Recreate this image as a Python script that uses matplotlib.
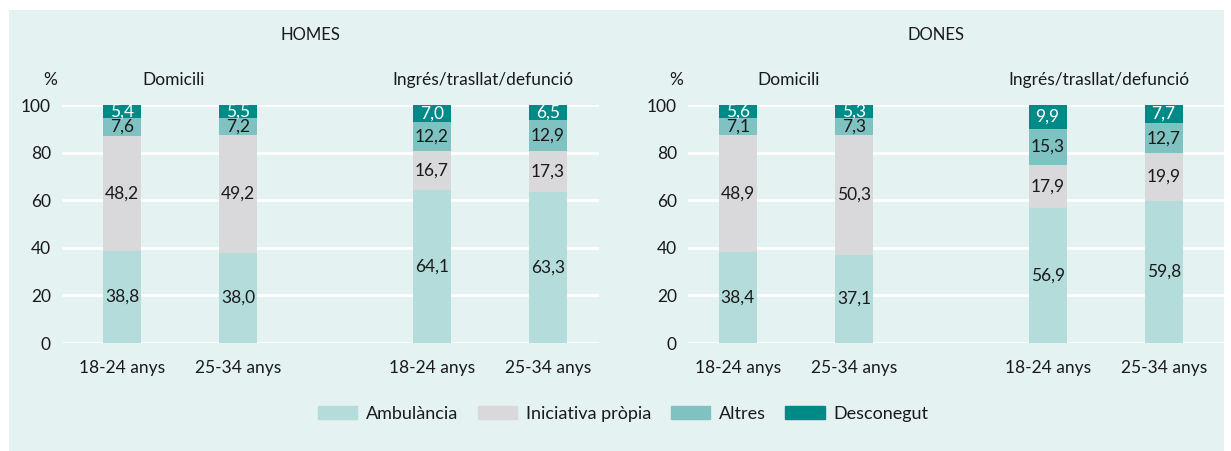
import matplotlib.pyplot as plt
import matplotlib.patches as mpatches
import numpy as np

plt.rcParams["font.family"] = ["Lato", "DejaVu Sans"]

series = ["Ambulància", "Iniciativa pròpia", "Altres", "Desconegut"]
colors = ["#b3dcdb", "#d9d9db", "#80c2c2", "#008a87"]
age_labels = ["18-24 anys", "25-34 anys", "18-24 anys", "25-34 anys"]
groups = ["Domicili", "Ingrés/trasllat/defunció"]

homes_ambulancia = [38.8, 38.0, 64.1, 63.3]
homes_iniciativa = [48.2, 49.2, 16.7, 17.3]
homes_altres = [7.6, 7.2, 12.2, 12.9]
homes_desconegut = [5.4, 5.5, 7.0, 6.5]

dones_ambulancia = [38.4, 37.1, 56.9, 59.8]
dones_iniciativa = [48.9, 50.3, 17.9, 19.9]
dones_altres = [7.1, 7.3, 15.3, 12.7]
dones_desconegut = [5.6, 5.3, 9.9, 7.7]

panels = [
    ("HOMES", [homes_ambulancia, homes_iniciativa, homes_altres, homes_desconegut]),
    ("DONES", [dones_ambulancia, dones_iniciativa, dones_altres, dones_desconegut]),
]

bg = "#e4f2f1"
W, H = 1231, 451
fig = plt.figure(figsize=(W / 100, H / 100), dpi=100, facecolor="white")
fig.patches.append(
    mpatches.Rectangle((9 / W, 0), (1224 - 9) / W, (H - 10) / H,
                       transform=fig.transFigure, facecolor=bg, edgecolor="none", zorder=-10)
)

x = np.array([0, 1, 2.67, 3.67])
bar_w = 0.33
axes_px = [(62, 599, (-0.52, 4.11)), (688, 1224, (-0.43, 4.19))]
fs = 12.5

for (title, data), (x0, x1, xl) in zip(panels, axes_px):
    ax = fig.add_axes([x0 / W, (H - 343) / H, (x1 - x0) / W, (343 - 105) / H])
    ax.set_facecolor("none")
    for s in ax.spines.values():
        s.set_visible(False)
    ax.set_xlim(*xl)
    ax.set_ylim(0, 100)
    ax.set_yticks(range(0, 101, 20))
    ax.grid(axis="y", color="white", linewidth=2, zorder=0)
    ax.set_axisbelow(True)
    ax.tick_params(axis="both", length=0, labelsize=fs, colors="#1a1a1a")
    ax.tick_params(axis="y", pad=8)
    ax.tick_params(axis="x", pad=12)
    ax.set_xticks(x)
    ax.set_xticklabels(age_labels)

    bottom = np.zeros(4)
    for k, (vals, c, name) in enumerate(zip(data, colors, series)):
        vals = np.array(vals)
        ax.bar(x, vals, bar_w, bottom=bottom, color=c, label=name, zorder=2)
        for xi, b, v in zip(x, bottom, vals):
            ax.text(xi, b + v / 2, f"{v:.1f}".replace(".", ","), ha="center", va="center",
                    fontsize=fs, color="white" if k == 3 else "#1a1a1a", zorder=3)
        bottom += vals

    ax.text(0.463, 1.294, title, transform=ax.transAxes, ha="center", va="center",
            fontsize=12, color="#1a1a1a")
    ax.text(-12 / (x1 - x0), 1.105, "%", transform=ax.transAxes, ha="center", va="center",
            fontsize=fs, color="#1a1a1a")
    for g, mid in zip(groups, [(x[0] + x[1]) / 2 - 0.06, (x[2] + x[3]) / 2 - 0.06]):
        ax.text(mid, 110.5, g, ha="center", va="center", fontsize=fs, color="#1a1a1a")

handles = [mpatches.Patch(color=c, label=s) for c, s in zip(colors, series)]
fig.legend(handles=handles, loc="center", bbox_to_anchor=(623 / W, (H - 414) / H), ncol=4,
           frameon=False, fontsize=13, handlelength=2.2, handleheight=0.7,
           handletextpad=0.45, columnspacing=1.1, labelcolor="#1a1a1a")

fig.savefig("out.png", dpi=100, facecolor="white")
